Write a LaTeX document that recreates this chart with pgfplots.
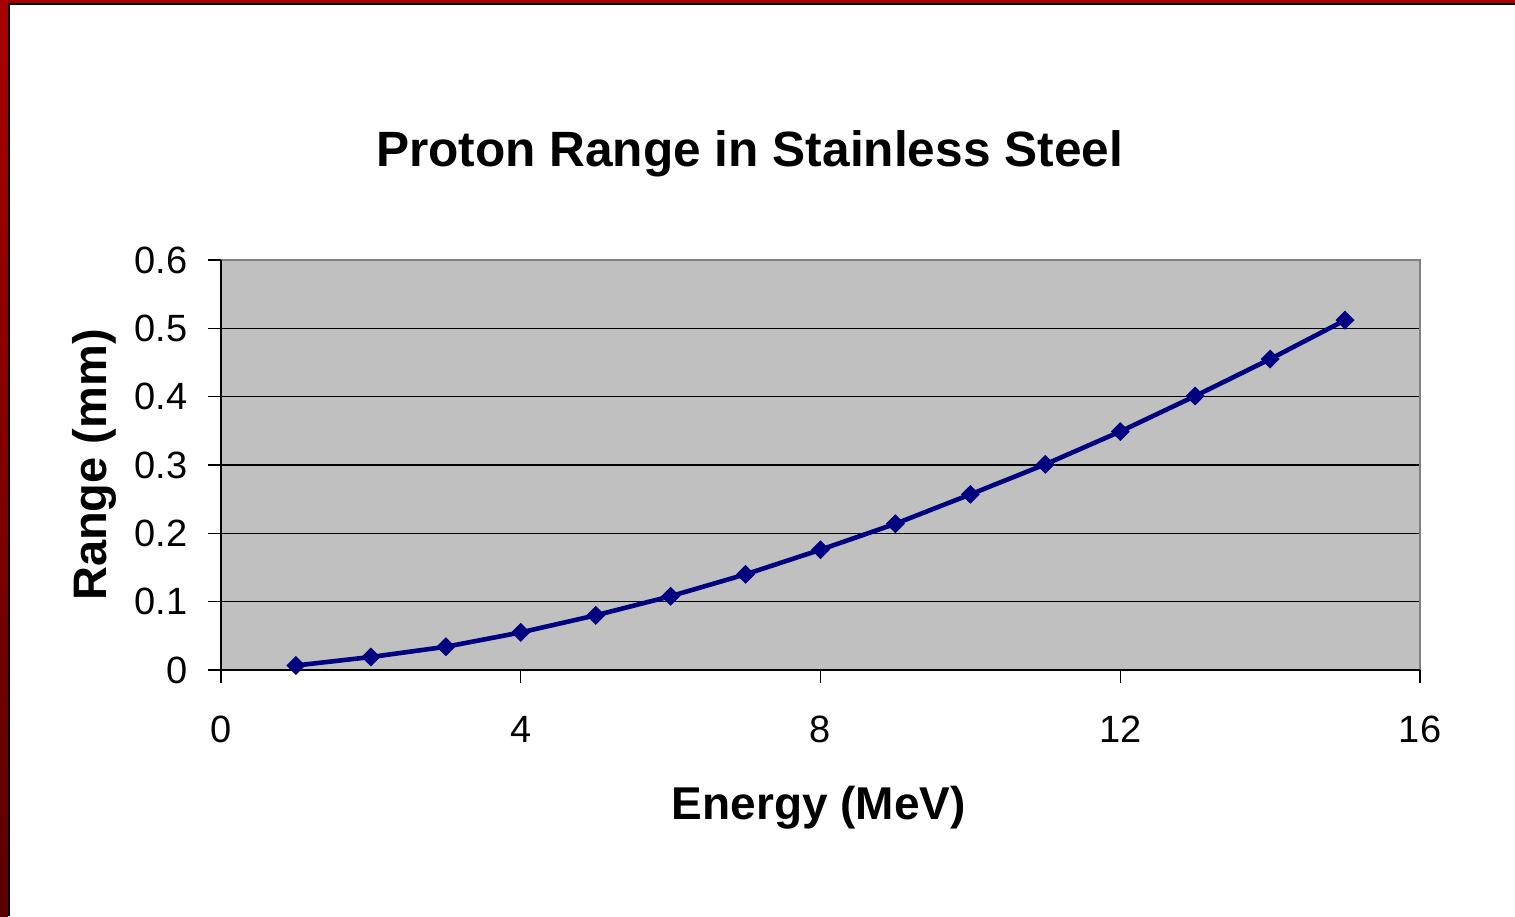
\documentclass[border=0pt]{standalone}
\usepackage{fontspec}
\setmainfont{Liberation Sans}
\usepackage{pgfplots}
\pgfplotsset{compat=1.18}
\definecolor{bggray}{HTML}{C0C0C0}
\definecolor{navyline}{HTML}{000080}
\definecolor{framered}{HTML}{A80000}
\definecolor{framereddark}{HTML}{5A0000}
\begin{document}
\begin{tikzpicture}
% page and frame
\fill[white] (-110.5pt,-123pt) rectangle (647pt,335pt);
\shade[top color=framered, bottom color=framereddark] (-110.5pt,-123pt) rectangle (-106.5pt,335pt);
\fill[framered] (-110.5pt,333.35pt) rectangle (647pt,335pt);
\fill[black] (-106.5pt,-123pt) rectangle (-105.5pt,333.35pt);
\fill[black] (-106.5pt,332.5pt) rectangle (647pt,333.35pt);
\useasboundingbox (-110.5pt,-123pt) rectangle (647pt,335pt);
\begin{axis}[
  at={(0,0)}, anchor=origin,
  scale only axis, width=599.5pt, height=205pt,
  xmin=0, xmax=16, ymin=0, ymax=0.6,
  xtick={0,4,8,12,16}, ytick={0,0.1,0.2,0.3,0.4,0.5,0.6},
  yticklabels={0,0.1,0.2,0.3,0.4,0.5,0.6},
  xticklabels={0,4,8,12,16},
  tick align=outside, major tick length=6.5pt,
  xtick pos=bottom, ytick pos=left,
  tick style={black, line width=0.7pt},
  ymajorgrids, grid style={black, line width=0.6pt},
  axis line style={draw=none},
  axis background/.style={fill=bggray},
  /pgf/number format/assume math mode=true,
  tick label style={font=\fontsize{19}{22.8}\selectfont, black},
  yticklabel style={anchor=east, inner sep=0pt, xshift=-10pt},
  xticklabel style={anchor=base, inner sep=0pt, yshift=-29.75pt},
  title={\textbf{Proton Range in Stainless Steel}},
  title style={font=\fontsize{24.8}{29.8}\selectfont, at={(axis description cs:0.4408,1.2212)}, anchor=base, yshift=-4.5pt},
  xlabel={\textbf{Energy (MeV)}},
  xlabel style={font=\fontsize{23}{27.6}\selectfont, at={(axis description cs:0.4987,-0.36585)}, anchor=base},
  ylabel={\textbf{Range (mm)}},
  ylabel style={font=\fontsize{23.5}{28}\selectfont, at={(axis description cs:-0.0955,0.5)}, anchor=base},
  clip=false,
]
\draw[gray, line width=0.7pt] (rel axis cs:0,1) -- (rel axis cs:1,1) -- (rel axis cs:1,0);
\draw[black, line width=0.7pt] (rel axis cs:0,1) -- (rel axis cs:0,0) -- (rel axis cs:1,0);
\addplot[navyline, line width=2.3pt, mark=square*, mark size=3.1pt,
  mark options={rotate=45, solid, fill=navyline, draw=navyline, line width=0.5pt}]
  coordinates {
  (1,0.0066) (2,0.019) (3,0.034) (4,0.055) (5,0.080)
  (6,0.108) (7,0.140) (8,0.176) (9,0.214) (10,0.257)
  (11,0.301) (12,0.349) (13,0.401) (14,0.455) (15,0.512)
  };
\end{axis}
\end{tikzpicture}
\end{document}
